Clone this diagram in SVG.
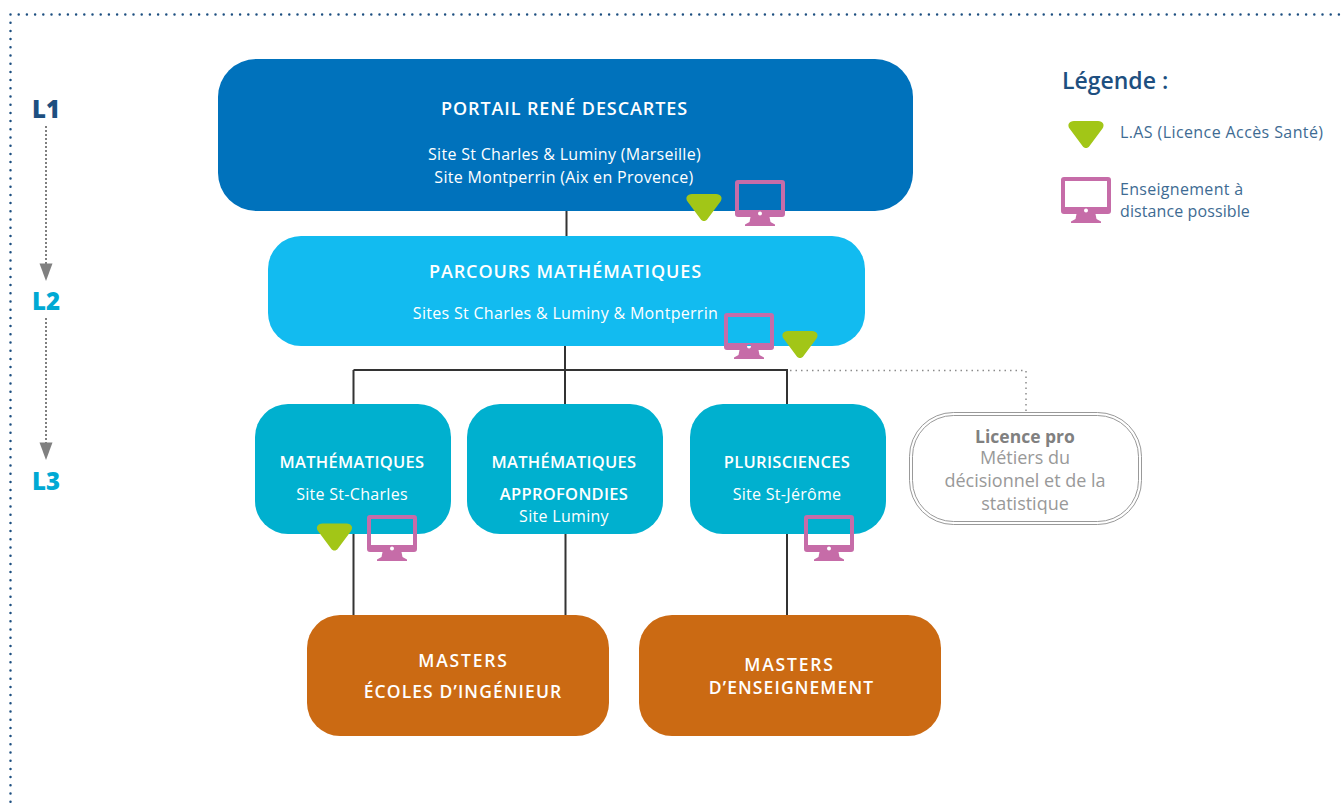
<svg xmlns="http://www.w3.org/2000/svg" xmlns:xlink="http://www.w3.org/1999/xlink" width="1343" height="807" viewBox="0 0 1343 807">
<style>
text{font-family:"Open Sans","Liberation Sans",sans-serif;text-anchor:middle}
.h{font-size:18px;font-weight:600;fill:#fff;letter-spacing:.9px}
.m{font-size:16.500px;font-weight:600;fill:#fff;letter-spacing:.3px}
.o{font-size:17.500px;font-weight:600;fill:#fff;letter-spacing:1.100px}
.s{font-size:16px;fill:#fff;letter-spacing:.3px}
.lg{font-size:16px;fill:#3e6b93;text-anchor:start;letter-spacing:.4px}
.lv{font-size:24px;font-weight:800}
.g{font-size:18px;fill:#999}
.conn{fill:none;stroke:#333;stroke-width:2}
</style>
<defs>
<symbol id="mon" viewBox="0 0 50 46" width="50" height="46" overflow="visible">
<path fill="#c66ca8" fill-rule="evenodd" d="M3 0H47A3 3 0 0 1 50 3V34A3 3 0 0 1 47 37H34.500L35.500 42L40 44.500V46H10V44.500L14.500 42L15.500 37H3A3 3 0 0 1 0 34V3A3 3 0 0 1 3 0ZM4 4V30H46V4ZM25 31.500A2 2 0 1 0 25.010 35.500A2 2 0 1 0 25 31.500Z"/>
</symbol>
<symbol id="tri" viewBox="0 0 36 27" width="36" height="27" overflow="visible">
<path fill="#a2c617" d="M6 0H30C35 0 37 4 34.500 7.500L21.500 25C19.500 27.700 16.500 27.700 14.500 25L1.500 7.500C-1 4 1 0 6 0Z"/>
</symbol>
</defs>
<path d="M10.500 14.500H1343M10.500 14.500V807" fill="none" stroke="#1d4f80" stroke-width="2.500" stroke-linecap="round" stroke-dasharray="0 8.200"/>
<g id="connectors">
<path class="conn" d="M566.500 210V237M565 346V404M353.500 370H787V404M353.500 370V404M353.500 534V615M565.500 534V615M787 534V615"/>
<path d="M790 370.500H1026V412" fill="none" stroke="#8c8c8c" stroke-width="1.500" stroke-dasharray="1.500 4"/>
<path d="M46 126V264" fill="none" stroke="#808080" stroke-width="2" stroke-dasharray="2 2"/>
<path d="M39.500 263.500H52.500L46 281Z" fill="#808080"/>
<path d="M46 318V443" fill="none" stroke="#808080" stroke-width="2" stroke-dasharray="2 2"/>
<path d="M39.500 442.500H52.500L46 460Z" fill="#808080"/>
</g>
<g id="level-l1"><text class="lv" x="46" y="118" fill="#1d4f80">L1</text></g>
<g id="level-l2"><text class="lv" x="46" y="310" fill="#00a9d4">L2</text></g>
<g id="level-l3"><text class="lv" x="46" y="490" fill="#00a9d4">L3</text></g>
<g id="node-portail">
<rect x="218" y="59" width="695" height="152" rx="38" fill="#0072bc"/>
<text class="h" x="564.500" y="115">PORTAIL RENÉ DESCARTES</text>
<text class="s" x="564.500" y="160">Site St Charles &amp; Luminy (Marseille)</text>
<text class="s" x="564" y="183">Site Montperrin (Aix en Provence)</text>
<use xlink:href="#tri" href="#tri" x="686" y="194"/>
<use xlink:href="#mon" href="#mon" x="735" y="180"/>
</g>
<g id="node-parcours">
<rect x="268" y="236" width="597" height="110" rx="33" fill="#12bbf0"/>
<text class="h" x="565.500" y="278">PARCOURS MATHÉMATIQUES</text>
<text class="s" x="565.500" y="319">Sites St Charles &amp; Luminy &amp; Montperrin</text>
<use xlink:href="#mon" href="#mon" x="724" y="313"/>
<use xlink:href="#tri" href="#tri" x="782" y="331"/>
</g>
<g id="node-maths">
<rect x="255" y="404" width="196" height="130" rx="33" fill="#00b0cf"/>
<text class="m" x="352" y="468">MATHÉMATIQUES</text>
<text class="s" x="352" y="500">Site St-Charles</text>
<use xlink:href="#tri" href="#tri" x="316.500" y="523.500"/>
<use xlink:href="#mon" href="#mon" x="367" y="515"/>
</g>
<g id="node-approfondies">
<rect x="467" y="404" width="196" height="130" rx="33" fill="#00b0cf"/>
<text class="m" x="564" y="468">MATHÉMATIQUES</text>
<text class="m" x="564" y="500">APPROFONDIES</text>
<text class="s" x="564" y="522">Site Luminy</text>
</g>
<g id="node-plurisciences">
<rect x="690" y="404" width="196" height="130" rx="33" fill="#00b0cf"/>
<text class="m" x="787" y="468">PLURISCIENCES</text>
<text class="s" x="787" y="500">Site St-Jérôme</text>
<use xlink:href="#mon" href="#mon" x="804" y="515"/>
</g>
<g id="node-licence-pro">
<rect x="909.500" y="412.500" width="232" height="112" rx="44" fill="#fff" stroke="#999" stroke-width="1"/>
<rect x="912.500" y="415.500" width="226" height="106" rx="41" fill="#fff" stroke="#999" stroke-width="1"/>
<text class="g" x="1025" y="443" style="font-weight:700;fill:#808080;font-size:17.500px">Licence pro</text>
<text class="g" x="1025" y="464">Métiers du</text>
<text class="g" x="1025" y="487">décisionnel et de la</text>
<text class="g" x="1025" y="510">statistique</text>
</g>
<g id="node-masters-ecoles">
<rect x="307" y="615" width="302" height="121" rx="33" fill="#cb6a13"/>
<text class="o" x="463.500" y="667" style="letter-spacing:1.800px">MASTERS</text>
<text class="o" x="463" y="698">ÉCOLES D’INGÉNIEUR</text>
</g>
<g id="node-masters-enseignement">
<rect x="639" y="615" width="302" height="121" rx="33" fill="#cb6a13"/>
<text class="o" x="789.500" y="671" style="letter-spacing:1.800px">MASTERS</text>
<text class="o" x="791.500" y="694">D’ENSEIGNEMENT</text>
</g>
<g id="legend">
<text x="1062" y="89" style="text-anchor:start;font-size:23px;font-weight:600;fill:#1d4f80">Légende :</text>
<use xlink:href="#tri" href="#tri" x="1068" y="121"/>
<text class="lg" x="1120" y="138">L.AS (Licence Accès Santé)</text>
<use xlink:href="#mon" href="#mon" x="1061" y="177"/>
<text class="lg" x="1120" y="195" style="letter-spacing:.3px">Enseignement à</text>
<text class="lg" x="1120" y="217" style="letter-spacing:.1px">distance possible</text>
</g>
</svg>
